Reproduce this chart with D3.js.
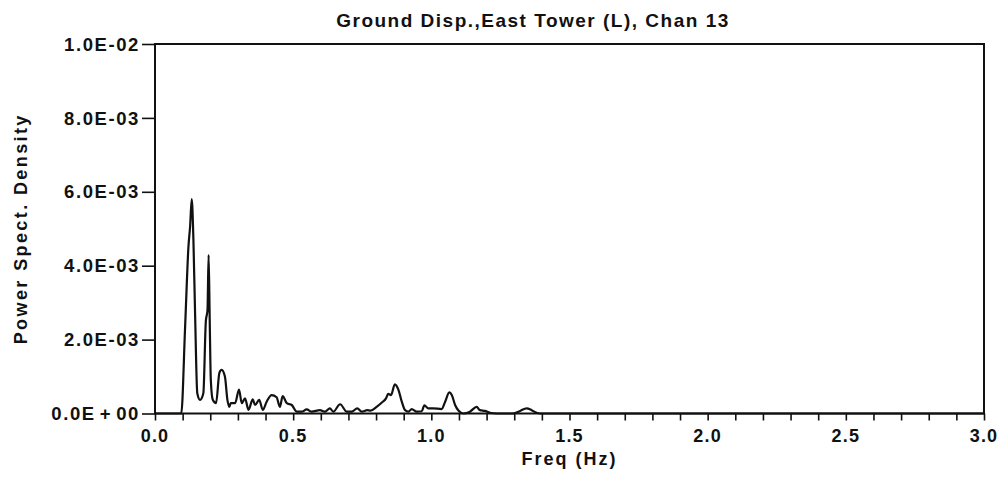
<!DOCTYPE html>
<html>
<head>
<meta charset="utf-8">
<script src="https://cdn.jsdelivr.net/npm/d3@7"></script>
<style>
	body { margin: 0; background: #fff; }
	text { font-family: "Liberation Sans", Arial, sans-serif; font-weight: bold; fill: #111; }
</style>
</head>
<body>
<svg id="chart"></svg>
<script>
// Power spectral density
let freq = [0.000, 0.095, 0.109, 0.121, 0.127, 0.133, 0.139, 0.145, 0.153, 0.163,
	0.175, 0.184, 0.190, 0.194, 0.198, 0.202, 0.209, 0.221, 0.233, 0.241,
	0.253, 0.262, 0.269, 0.274, 0.290, 0.304, 0.314, 0.326, 0.338, 0.354,
	0.362, 0.377, 0.390, 0.404, 0.422, 0.440, 0.452, 0.462, 0.477, 0.495,
	0.513, 0.531, 0.549, 0.567, 0.597, 0.615, 0.633, 0.645, 0.670, 0.694,
	0.712, 0.732, 0.748, 0.768, 0.780, 0.802, 0.820, 0.836, 0.844, 0.854,
	0.868, 0.881, 0.893, 0.905, 0.917, 0.929, 0.947, 0.965, 0.975, 0.989,
	1.007, 1.037, 1.050, 1.065, 1.074, 1.086, 1.098, 1.116, 1.140, 1.164,
	1.176, 1.194, 1.212, 1.237, 1.296, 1.321, 1.345, 1.363, 1.381, 1.393, 3.000];
let psd = [0, 0, 2.35e-3, 4.51e-3, 5.06e-3, 5.80e-3, 4.70e-3, 2.72e-3, 0.55e-3, 0.37e-3,
	0.55e-3, 2.50e-3, 2.80e-3, 4.29e-3, 2.53e-3, 0.90e-3, 0.37e-3, 0.28e-3, 1.10e-3, 1.18e-3,
	1.00e-3, 0.37e-3, 0.18e-3, 0.28e-3, 0.28e-3, 0.65e-3, 0.28e-3, 0.41e-3, 0.10e-3, 0.38e-3,
	0.23e-3, 0.37e-3, 0.10e-3, 0.32e-3, 0.50e-3, 0.44e-3, 0.18e-3, 0.47e-3, 0.28e-3, 0.23e-3,
	0.05e-3, 0.05e-3, 0.11e-3, 0.05e-3, 0.09e-3, 0.05e-3, 0.14e-3, 0.05e-3, 0.25e-3, 0.05e-3,
	0.05e-3, 0.14e-3, 0.05e-3, 0.09e-3, 0.08e-3, 0.18e-3, 0.29e-3, 0.41e-3, 0.53e-3, 0.50e-3,
	0.79e-3, 0.64e-3, 0.32e-3, 0.09e-3, 0.05e-3, 0.12e-3, 0.05e-3, 0.06e-3, 0.22e-3, 0.14e-3,
	0.14e-3, 0.12e-3, 0.32e-3, 0.57e-3, 0.50e-3, 0.23e-3, 0.08e-3, 0, 0.05e-3, 0.18e-3,
	0.09e-3, 0.07e-3, 0.02e-3, 0, 0, 0.07e-3, 0.14e-3, 0.09e-3, 0.02e-3, 0, 0];

let xTicks = [0, 0.5, 1.0, 1.5, 2.0, 2.5, 3.0];
let xMinorTicks = d3.range(0, 31).map(function(i) { return i / 10; });
let yTicks = [0, 0.002, 0.004, 0.006, 0.008, 0.01];
let yTickLabels = ['0.0E+00', '2.0E-03', '4.0E-03', '6.0E-03', '8.0E-03', '1.0E-02'];

let title = 'Ground Disp.,East Tower (L), Chan 13';
let xTitle = 'Freq (Hz)';
let yTitle = 'Power Spect. Density';

let W = 1004, H = 481;
let margin = { top: 44, right: 20, bottom: 67.5, left: 155 };
let width = W - margin.left - margin.right;
let height = H - margin.top - margin.bottom;

let svg = d3.select('#chart').attr('width', W).attr('height', H);
let g = svg.append('g').attr('transform', 'translate(' + margin.left + ',' + margin.top + ')');

let x = d3.scaleLinear().domain([0, 3]).range([0, width]);
let y = d3.scaleLinear().domain([0, 0.01]).range([height, 0]);

// frame
g.append('rect')
	.attr('width', width).attr('height', height)
	.attr('fill', 'none').attr('stroke', '#111').attr('stroke-width', 2);

// x axis: small ticks every 0.1, labels on the halves
let xAxis = g.append('g').attr('transform', 'translate(0,' + height + ')')
	.call(d3.axisBottom(x).tickValues(xMinorTicks).tickSize(7).tickFormat(''));
xAxis.select('.domain').remove();
xAxis.selectAll('line').attr('stroke', '#111').attr('stroke-width', 1.6);

g.selectAll('.xlab').data(xTicks).enter().append('text')
	.attr('class', 'xlab')
	.attr('x', function(d) { return x(d); })
	.attr('y', height + 28)
	.attr('text-anchor', 'middle')
	.style('font-size', '18px')
	.style('letter-spacing', '1.2px')
	.text(function(d) { return d3.format('.1f')(d); });

// y axis
let yAxis = g.append('g')
	.call(d3.axisLeft(y).tickValues(yTicks).tickSize(13).tickFormat(''));
yAxis.select('.domain').remove();
yAxis.selectAll('line').attr('stroke', '#111').attr('stroke-width', 1.6);

let ylab = g.selectAll('.ylab').data(yTicks).enter().append('text')
	.attr('class', 'ylab')
	.attr('x', -15)
	.attr('y', function(d) { return y(d); })
	.attr('dy', '0.36em')
	.attr('text-anchor', 'end')
	.style('font-size', '18.5px')
	.style('letter-spacing', '1.6px');

// the zero label is printed with the plus sign spaced out
ylab.each(function(d, i) {
	let t = d3.select(this);
	let s = yTickLabels[i];
	let k = s.indexOf('+');
	if (k < 0) { t.text(s); return; }
	t.append('tspan').text(s.slice(0, k));
	t.append('tspan').attr('dx', 4).text('+');
	t.append('tspan').attr('dx', 4).text(s.slice(k + 1));
});

// spectrum
let line = d3.line()
	.x(function(d) { return x(d[0]); })
	.y(function(d) { return y(d[1]); })
	.curve(d3.curveMonotoneX);

g.append('path')
	.datum(d3.zip(freq, psd))
	.attr('d', line)
	.attr('fill', 'none')
	.attr('stroke', '#111')
	.attr('stroke-width', 2.2)
	.attr('stroke-linejoin', 'round');

// titles
svg.append('text')
	.attr('x', 533).attr('y', 27)
	.attr('text-anchor', 'middle')
	.style('font-size', '19px')
	.style('letter-spacing', '1.5px')
	.text(title);

svg.append('text')
	.attr('x', margin.left + width / 2).attr('y', 465)
	.attr('text-anchor', 'middle')
	.style('font-size', '18px')
	.style('letter-spacing', '2px')
	.text(xTitle);

svg.append('text')
	.attr('transform', 'translate(27,' + (margin.top + height / 2) + ') rotate(-90)')
	.attr('text-anchor', 'middle')
	.style('font-size', '18px')
	.style('letter-spacing', '2.4px')
	.text(yTitle);
</script>
</body>
</html>
